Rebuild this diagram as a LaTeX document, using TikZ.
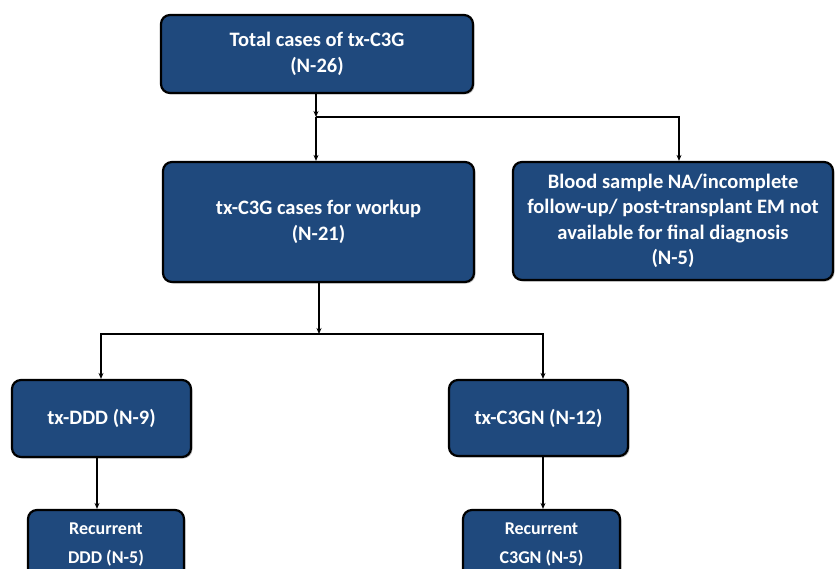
\documentclass[tikz,border=0pt]{standalone}
\usepackage{fontspec}
\setmainfont{Carlito}
\usetikzlibrary{arrows.meta,shadows}
\definecolor{boxblue}{RGB}{31,73,125}

\begin{document}
\begin{tikzpicture}[x=1pt,y=-1pt,>={Stealth[length=6pt,width=5pt]},
  box/.style={draw=black,line width=2.2pt,fill=boxblue,rounded corners=9pt,
    text=white,font=\fontsize{20.5}{25.5}\selectfont\bfseries,align=center,
    inner sep=0pt,drop shadow={shadow xshift=1.5pt,shadow yshift=-1.5pt,opacity=0.45}},
  small/.style={font=\fontsize{18}{29}\selectfont\bfseries},
  link/.style={->,line width=1.3pt}]
  \useasboundingbox (0,0) rectangle (837,569);
  \node[box,minimum width=312pt,minimum height=78pt]  at (317,54) (total) {Total cases of tx-C3G\\(N-26)};
  \node[box,minimum width=311pt,minimum height=120pt] at (318.5,222) (workup) {tx-C3G cases for workup\\(N-21)};
  \node[box,minimum width=320pt,minimum height=118pt] at (673,221) (excl) {Blood sample NA/incomplete\\follow-up/ post-transplant EM not\\available for final diagnosis\\(N-5)};
  \node[box,minimum width=179pt,minimum height=77pt]  at (101.5,418.5) (ddd) {tx-DDD (N-9)};
  \node[box,minimum width=179pt,minimum height=76pt]  at (538.5,418) (c3gn) {tx-C3GN (N-12)};
  \node[box,small,minimum width=156pt,minimum height=70pt]  at (106,545) (rddd) {Recurrent\\DDD (N-5)};
  \node[box,small,minimum width=157pt,minimum height=70pt]  at (541.5,545) (rc3gn) {Recurrent\\C3GN (N-5)};
  % branch points
  \coordinate (j1) at (316,117);
  \coordinate (j1r) at (679,117);
  \coordinate (j2) at (319,334);
  \coordinate (j2l) at (101,334);
  \coordinate (j2r) at (543,334);
  \draw[link] (total.south -| j1) -- (j1);
  \draw[link] (j1) -- (j1 |- workup.north);
  \draw[link] (j1) -- (j1r) -- (j1r |- excl.north);
  \draw[link] (workup.south -| j2) -- (j2);
  \draw[link] (j2) -- (j2l) -- (j2l |- ddd.north);
  \draw[link] (j2) -- (j2r) -- (j2r |- c3gn.north);
  \draw[link] (ddd.south -| 97,0) -- (rddd.north -| 97,0);
  \draw[link] (c3gn.south -| j2r) -- (rc3gn.north -| j2r);
\end{tikzpicture}
\end{document}
